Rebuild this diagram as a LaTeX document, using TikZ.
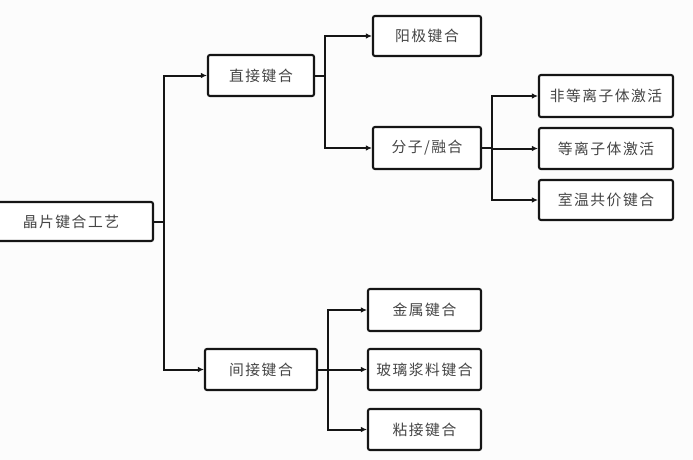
\documentclass[tikz,border=0pt]{standalone}
\usepackage{fontspec}
\usepackage{tikz}
\usetikzlibrary{
  arrows.meta,
  positioning,
  calc
}
\newfontfamily\cjk[LetterSpace=10]{Noto Sans CJK SC}
\definecolor{wbLine}{HTML}{151515}
\definecolor{wbText}{HTML}{454545}
\definecolor{wbBack}{HTML}{FCFCFC}
\tikzset{
  wbnode/.style={
    draw=wbLine, rounded corners=2pt, line width=2.1pt, fill=white,
    text=wbText, font=\cjk\fontsize{14.8}{16}\selectfont, align=center, inner sep=0pt
  },
  wbbox/.style={wbnode, minimum width=108pt, minimum height=41pt},
  wbwide/.style={wbnode, minimum width=134pt, minimum height=41pt},
  flow/.style={-{Latex[length=6pt,width=5.5pt]}, line width=2pt, wbLine}
}
\begin{document}
\begin{tikzpicture}[x=1pt, y=-1pt]
  \fill[wbBack] (0,0) rectangle (693,460);
  \useasboundingbox (0,0) rectangle (693,460);
  % level 0
  \node[wbnode, minimum width=164pt, minimum height=39pt] (root) at (71,221.5) {晶片键合工艺};
  % level 1
  \node[wbbox, minimum width=106pt] (direct) at (261,75.5) {直接键合};
  \node[wbbox, minimum width=112pt] (indirect) at (261,369.5) {间接键合};
  % level 2
  \node[wbbox, minimum height=40pt] (anode) at (427,36) {阳极键合};
  \node[wbbox, minimum height=42pt] (fusion) at (427,148) {分子/融合};
  \node[wbbox, minimum width=113pt, minimum height=42pt] (metal) at (424.5,310) {金属键合};
  \node[wbbox, minimum width=113pt] (glass) at (424.5,369.5) {玻璃浆料键合};
  \node[wbbox, minimum width=113pt] (adhesive) at (424.5,429.5) {粘接键合};
  % level 3
  \node[wbwide, minimum height=42pt] (nonplasma) at (606,96) {非等离子体激活};
  \node[wbwide] (plasma) at (606,148.5) {等离子体激活};
  \node[wbwide, minimum height=40pt] (roomtemp) at (606,200) {室温共价键合};

  \draw[flow] (root.east) -- ++(10,0) |- (direct.west);
  \draw[flow] (root.east) -- ++(10,0) |- (indirect.west);

  \draw[flow] (direct.east) -- ++(10,0) |- (anode.west);
  \draw[flow] (direct.east) -- ++(10,0) |- (fusion.west);

  \draw[flow] (fusion.east) -- ++(10,0) |- (nonplasma.west);
  \draw[flow] (fusion.east) -- ++(10,0) |- (plasma.west);
  \draw[flow] (fusion.east) -- ++(10,0) |- (roomtemp.west);

  \draw[flow] (indirect.east) -- ++(10,0) |- (metal.west);
  \draw[flow] (indirect.east) -- ++(10,0) |- (glass.west);
  \draw[flow] (indirect.east) -- ++(10,0) |- (adhesive.west);
\end{tikzpicture}
\end{document}
